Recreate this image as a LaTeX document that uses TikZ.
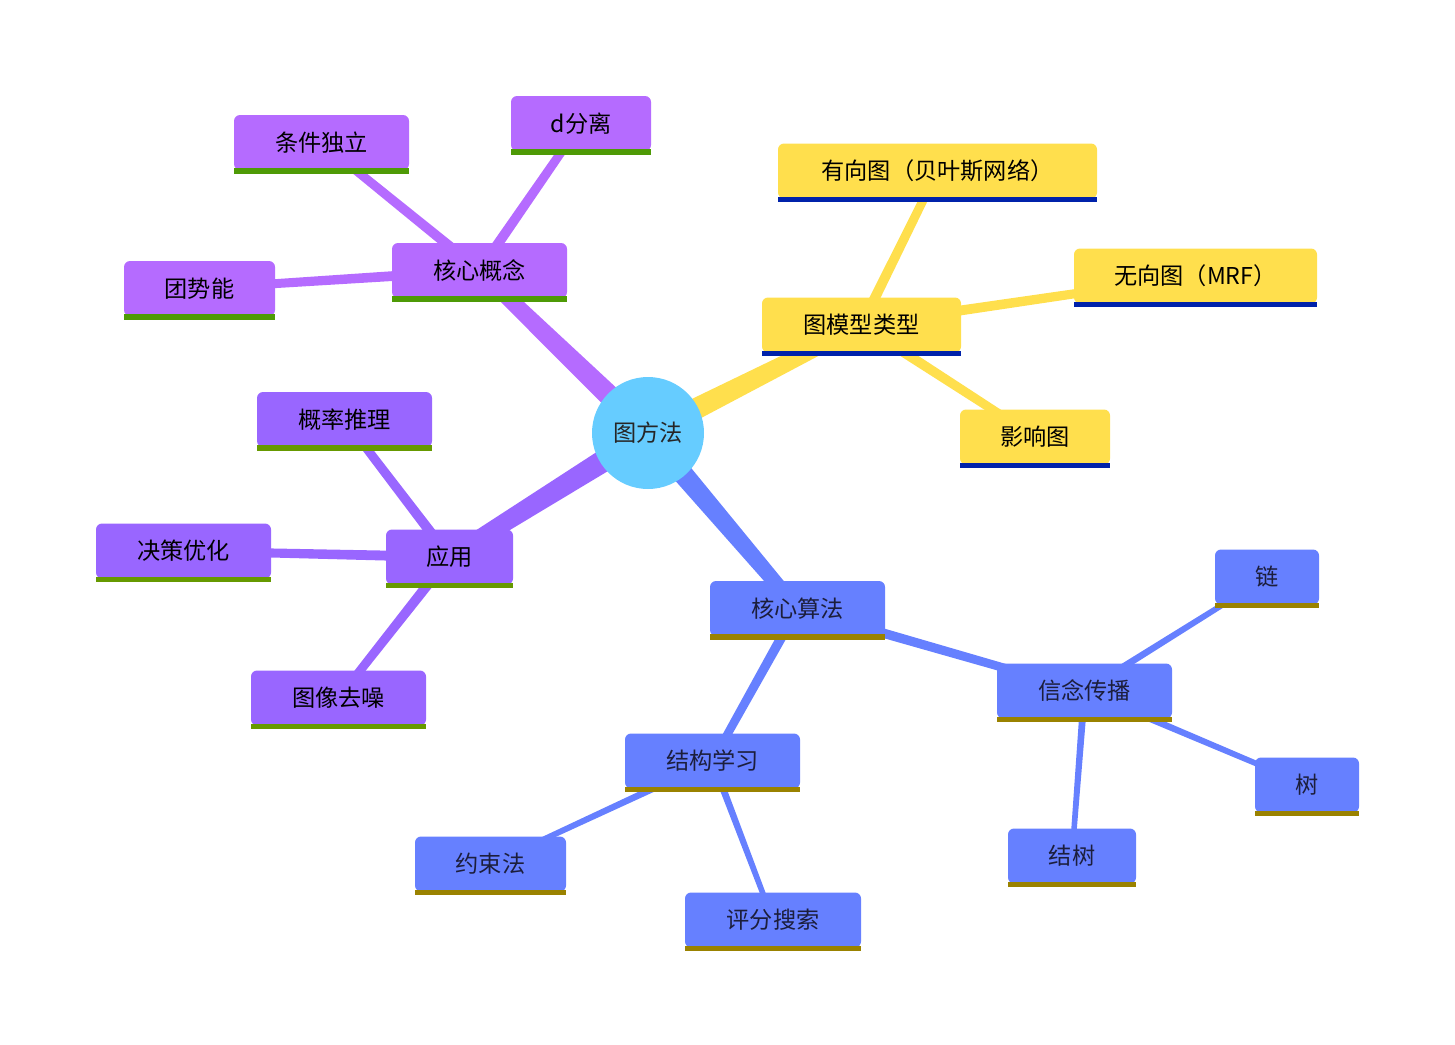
\documentclass[tikz,border=0pt]{standalone}
\usepackage{fontspec}
\setmainfont{Noto Sans CJK SC}
\usetikzlibrary{calc}
\pgfdeclarelayer{background}
\pgfsetlayers{background,main}
\definecolor{cpurple}{HTML}{B56BFF}
\definecolor{cviolet}{HTML}{9966FF}
\definecolor{cyellow}{HTML}{FFDF4D}
\definecolor{cblue}{HTML}{6680FF}
\definecolor{ccyan}{HTML}{66CCFF}
\definecolor{ugreen}{HTML}{4E9A06}
\definecolor{ugreenb}{HTML}{669900}
\definecolor{unavy}{HTML}{0022AA}
\definecolor{uolive}{HTML}{9A8200}
\definecolor{tnavy}{HTML}{1C1E3C}
\newcommand\branch[5]{%
  \fill[#5] ($(#1)!#3!90:(#2)$) -- ($(#1)!#3!-90:(#2)$) -- ($(#2)!#4!90:(#1)$) -- ($(#2)!#4!-90:(#1)$) -- cycle;}
\newcommand\uline[2]{%
  \fill[#2] ([yshift=1pt]#1.south west) rectangle ([yshift=-1.6pt]#1.south east);}
\tikzset{
  mbox/.style={rectangle, rounded corners=3pt, inner xsep=0pt, inner ysep=0pt,
    minimum height=27.5pt, font=\fontsize{11.6}{14}\selectfont, text=black},
  bw/.style={minimum width=#1*0.5pt},
  pbox/.style={mbox, fill=cpurple},
  vbox/.style={mbox, fill=cviolet},
  ybox/.style={mbox, fill=cyellow},
  bbox/.style={mbox, fill=cblue, text=tnavy},
  rootnode/.style={circle, fill=ccyan, minimum size=56pt, inner sep=0pt,
    font=\fontsize{11.6}{14}\selectfont, text=black!85}
}
\begin{document}
\begin{tikzpicture}[x=0.5pt,y=-0.5pt]
\useasboundingbox (0,0) rectangle (1455,1044);
% root
\node[rootnode] (root) at (648,433) {图方法};
% purple group
\node[pbox,bw=175] (core) at (479.5,270.5) {核心概念};
\node[pbox,bw=175] (cond) at (321.5,142.5) {条件独立};
\node[pbox,bw=140] (dsep) at (581,123.5) {d分离};
\node[pbox,bw=151] (clique) at (199.5,288.5) {团势能};
% violet group
\node[vbox,bw=127] (app) at (449.5,557) {应用};
\node[vbox,bw=175] (prob) at (344.5,419.5) {概率推理};
\node[vbox,bw=175] (dec) at (183.5,551) {决策优化};
\node[vbox,bw=175] (den) at (338.5,698) {图像去噪};
% yellow group
\node[ybox,bw=199] (types) at (861.5,325) {图模型类型};
\node[ybox,bw=319] (dir) at (937.5,171) {有向图（贝叶斯网络）};
\node[ybox,bw=243] (undir) at (1195.5,276) {无向图（MRF）};
\node[ybox,bw=150] (infl) at (1035,437) {影响图};
% blue group
\node[bbox,bw=175] (alg) at (797.5,608.5) {核心算法};
\node[bbox,bw=175] (bp) at (1084.5,691) {信念传播};
\node[bbox,bw=104] (chain) at (1267,577) {链};
\node[bbox,bw=104] (tree) at (1307,785) {树};
\node[bbox,bw=128] (jt) at (1072,856) {结树};
\node[bbox,bw=175] (sl) at (712.5,761) {结构学习};
\node[bbox,bw=151] (cons) at (490.5,864) {约束法};
\node[bbox,bw=176] (score) at (773,920) {评分搜索};
% underlines
\foreach \n in {core,cond,dsep,clique} {\uline{\n}{ugreen}}
\foreach \n in {app,prob,dec,den} {\uline{\n}{ugreenb}}
\foreach \n in {types,dir,undir,infl} {\uline{\n}{unavy}}
\foreach \n in {alg,bp,chain,tree,jt,sl,cons,score} {\uline{\n}{uolive}}
% branches
\begin{pgfonlayer}{background}
\branch{root.center}{core.center}{5.8pt}{3.6pt}{cpurple}
\branch{root.center}{app.center}{6pt}{4pt}{cviolet}
\branch{root.center}{types.center}{5.8pt}{3.6pt}{cyellow}
\branch{root.center}{alg.center}{5.6pt}{3.4pt}{cblue}
\branch{core.center}{cond.center}{2.6pt}{2.1pt}{cpurple}
\branch{core.center}{dsep.center}{2.6pt}{2.1pt}{cpurple}
\branch{core.center}{clique.center}{2.6pt}{2.1pt}{cpurple}
\branch{app.center}{prob.center}{2.6pt}{2.1pt}{cviolet}
\branch{app.center}{dec.center}{2.6pt}{2.1pt}{cviolet}
\branch{app.center}{den.center}{2.6pt}{2.1pt}{cviolet}
\branch{types.center}{dir.center}{2.6pt}{2.1pt}{cyellow}
\branch{types.center}{undir.center}{2.6pt}{2.1pt}{cyellow}
\branch{types.center}{infl.center}{2.6pt}{2.1pt}{cyellow}
\branch{alg.center}{bp.center}{2.5pt}{2pt}{cblue}
\branch{alg.center}{sl.center}{2.5pt}{2pt}{cblue}
\branch{bp.center}{chain.center}{1.8pt}{1.3pt}{cblue}
\branch{bp.center}{tree.center}{1.8pt}{1.3pt}{cblue}
\branch{bp.center}{jt.center}{1.8pt}{1.3pt}{cblue}
\branch{sl.center}{cons.center}{1.8pt}{1.3pt}{cblue}
\branch{sl.center}{score.center}{1.8pt}{1.3pt}{cblue}
\end{pgfonlayer}
\end{tikzpicture}
\end{document}
